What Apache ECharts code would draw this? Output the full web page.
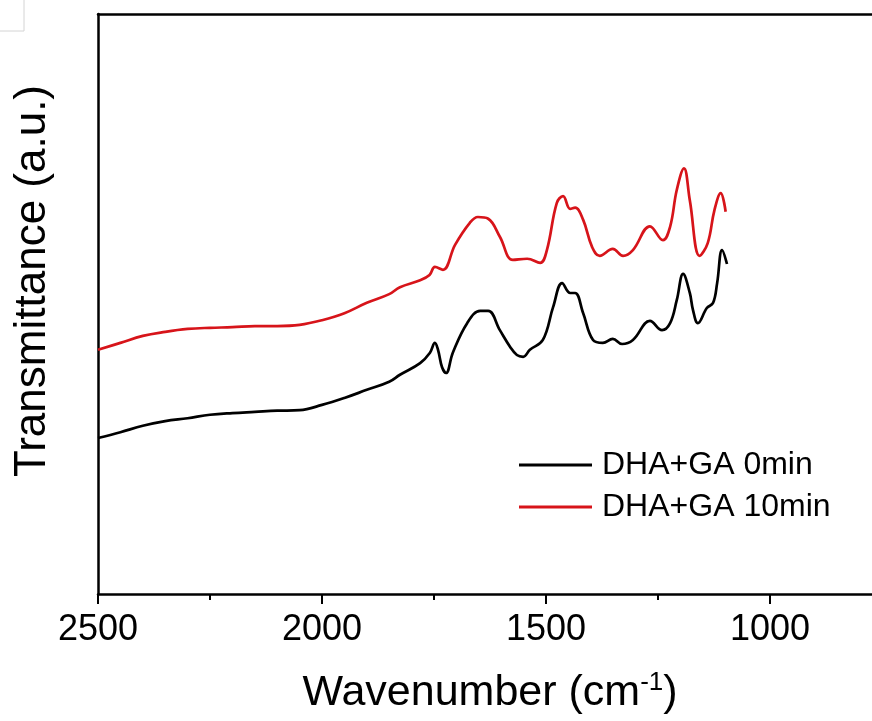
<!DOCTYPE html>
<html>
<head>
<meta charset="utf-8">
<script src="https://cdn.jsdelivr.net/npm/echarts@6/dist/echarts.min.js"></script>
<style>
  html, body { margin: 0; padding: 0; background: #fff; }
  #ftir-chart { width: 872px; height: 721px; }
</style>
</head>
<body>
<div id="ftir-chart"></div>
<script>
// wavenumber (cm-1) and transmittance (a.u.)
const wn0 = [2500, 2450, 2400, 2350, 2300, 2250, 2200, 2150, 2100, 2050, 2000, 1950, 1900, 1850, 1826, 1781, 1759, 1748, 1741, 1732, 1723, 1708, 1676, 1647, 1629, 1603, 1580, 1565, 1551, 1536, 1507, 1484, 1464, 1446, 1435, 1417, 1395, 1373, 1351, 1330, 1306, 1268, 1241, 1223, 1208, 1194, 1179, 1172, 1161, 1141, 1127, 1118, 1107, 1096];
const t0 = [26.9, 27.9, 29.0, 29.8, 30.3, 30.9, 31.2, 31.4, 31.6, 31.7, 32.6, 33.8, 35.2, 36.6, 37.8, 39.8, 41.6, 43.3, 42.1, 39.1, 38.1, 41.6, 46.7, 48.8, 48.8, 45.5, 42.6, 41.2, 40.9, 42.1, 43.8, 49.5, 53.6, 51.9, 51.9, 48.4, 43.8, 43.3, 44.0, 43.1, 43.8, 47.1, 45.5, 46.7, 50.7, 55.2, 51.9, 49.0, 46.7, 49.3, 50.2, 53.6, 59.3, 56.9];

const wn10 = [2500, 2450, 2400, 2350, 2300, 2250, 2200, 2150, 2100, 2050, 2000, 1950, 1900, 1850, 1826, 1781, 1760, 1748, 1730, 1703, 1670, 1652, 1629, 1603, 1574, 1542, 1513, 1498, 1476, 1462, 1446, 1435, 1417, 1397, 1380, 1351, 1328, 1306, 1268, 1239, 1223, 1208, 1192, 1179, 1157, 1139, 1124, 1110, 1099];
const t10 = [42.1, 43.3, 44.5, 45.2, 45.7, 45.9, 46.0, 46.2, 46.2, 46.4, 47.2, 48.4, 50.2, 51.7, 52.9, 54.1, 55.0, 56.4, 55.9, 60.2, 64.0, 65.0, 64.7, 61.6, 57.6, 57.8, 57.1, 59.3, 67.4, 68.6, 66.4, 66.6, 64.5, 59.8, 58.3, 59.5, 58.3, 59.3, 63.4, 61.0, 63.3, 69.7, 73.4, 67.9, 58.3, 60.5, 66.2, 69.1, 65.9];

const seriesNames = ["DHA+GA 0min", "DHA+GA 10min"];
const majorTicks = [1000, 1500, 2000, 2500];
const minorTicks = [1250, 1750, 2250];

function pairs(xs, ys) {
  return xs.map(function (x, i) { return [x, ys[i]]; });
}

const font = "Liberation Sans, Arial, sans-serif";
const chart = echarts.init(document.getElementById("ftir-chart"));

const option = {
  animation: false,
  backgroundColor: "#fff",
  grid: {
    top: 14,
    bottom: 127,
    left: 98,
    width: 784,
    outerBoundsMode: "none",
    containLabel: false,
  },
  legend: {
    data: seriesNames,
    orient: "vertical",
    left: 519,
    top: 447,
    padding: 0,
    icon: "rect",
    itemWidth: 73,
    itemHeight: 3,
    itemGap: 6,
    textStyle: {
      fontFamily: font,
      fontSize: 32,
      lineHeight: 36,
      color: "#000",
      padding: [0, 0, 0, 5],
    },
  },
  xAxis: [
    {
      type: "value",
      position: "bottom",
      inverse: true,
      min: 750,
      max: 2500,
      name: "Wavenumber (cm{sup|-1})",
      nameLocation: "middle",
      nameGap: 76,
      nameTextStyle: {
        fontFamily: font,
        fontSize: 43,
        color: "#000",
        rich: {
          sup: { fontFamily: font, fontSize: 26, color: "#000", padding: [0, 0, 20, 0] },
        },
      },
      axisLine: { lineStyle: { color: "#000", width: 2.5 } },
      axisTick: { customValues: majorTicks, length: 10, lineStyle: { color: "#000", width: 2 } },
      axisLabel: {
        customValues: majorTicks,
        margin: 18,
        fontFamily: font,
        fontSize: 36,
        color: "#000",
        formatter: function (v) { return String(v); },
      },
      splitLine: { show: false },
    },
    {
      type: "value",
      position: "bottom",
      inverse: true,
      min: 750,
      max: 2500,
      axisLine: { show: false },
      axisTick: { customValues: minorTicks, length: 6, lineStyle: { color: "#000", width: 2 } },
      axisLabel: { show: false },
      splitLine: { show: false },
    },
    {
      type: "value",
      position: "top",
      inverse: true,
      min: 750,
      max: 2500,
      axisLine: { lineStyle: { color: "#000", width: 2.5 } },
      axisTick: { show: false },
      axisLabel: { show: false },
      splitLine: { show: false },
    },
  ],
  yAxis: {
    type: "value",
    min: 0,
    max: 100,
    name: "Transmittance (a.u.)",
    nameLocation: "middle",
    nameGap: 43,
    nameTextStyle: {
      fontFamily: font,
      fontSize: 44,
      color: "#000",
      padding: [0, 0, 0, 46],
    },
    axisLine: { show: true, lineStyle: { color: "#000", width: 2.5 } },
    axisTick: { show: false },
    axisLabel: { show: false },
    splitLine: { show: false },
  },
  graphic: [
    {
      type: "polyline",
      shape: { points: [[0, 31], [24, 31], [24, 0]] },
      style: { stroke: "#d4d4d4", lineWidth: 1, fill: null },
    },
  ],
  series: [
    {
      name: seriesNames[0],
      type: "line",
      data: pairs(wn0, t0),
      smooth: 0.4,
      showSymbol: false,
      symbol: "none",
      lineStyle: { color: "#000", width: 2.7 },
      itemStyle: { color: "#000" },
    },
    {
      name: seriesNames[1],
      type: "line",
      data: pairs(wn10, t10),
      smooth: 0.4,
      showSymbol: false,
      symbol: "none",
      lineStyle: { color: "#d7141a", width: 2.7 },
      itemStyle: { color: "#d7141a" },
    },
  ],
};

chart.setOption(option);
window.addEventListener("resize", function () {
  chart.resize();
});
</script>
</body>
</html>
